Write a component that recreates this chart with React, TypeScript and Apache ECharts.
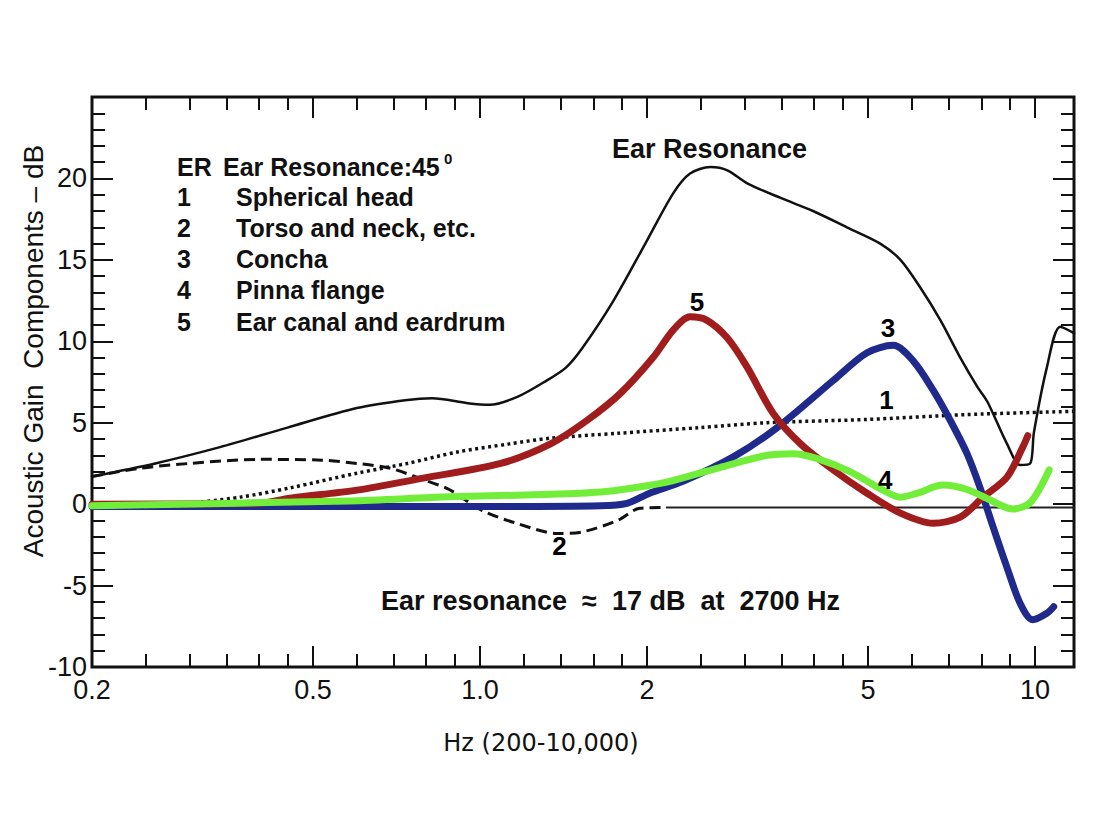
import { useRef, useEffect } from 'react';
import * as echarts from 'echarts';

// frequency in kHz, gain in dB
const erCurve = [
  [0.2, 1.7], [0.26, 2.5], [0.34, 3.5], [0.45, 4.7], [0.6, 5.9], [0.74, 6.4], [0.82, 6.5], [0.95, 6.2],
  [1.04, 6.1], [1.17, 6.6], [1.32, 7.6], [1.43, 8.4], [1.53, 9.6], [1.74, 12.5], [2.0, 16.2], [2.23, 19.1],
  [2.39, 20.3], [2.6, 20.7], [2.79, 20.5], [3.03, 19.7], [3.48, 18.8], [3.98, 18.0], [4.58, 17.0],
  [5.26, 16.0], [5.72, 15.0], [6.21, 13.3], [6.75, 11.3], [7.33, 9.0], [7.87, 7.2], [8.2, 6.3],
  [8.9, 3.7], [9.4, 2.4], [9.8, 2.5], [9.95, 4.4], [10.5, 8.4], [11.1, 10.9], [11.75, 10.5],
];
const headCurve = [
  [0.29, 0], [0.37, 0.43], [0.455, 1.0], [0.6, 1.9], [0.74, 2.5], [0.91, 3.2], [1.13, 3.7], [1.34, 4.05],
  [1.77, 4.35], [2.49, 4.7], [3.29, 5.0], [4.98, 5.2], [7.54, 5.5], [11.75, 5.7],
];
const torsoCurve = [
  [0.2, 1.7], [0.244, 2.2], [0.3, 2.5], [0.4, 2.75], [0.52, 2.7], [0.6, 2.5], [0.69, 2.2], [0.79, 1.5],
  [0.88, 0.9], [1.01, -0.4], [1.17, -1.2], [1.38, -1.8], [1.53, -1.7], [1.77, -1.0], [1.94, -0.25], [2.17, -0.2],
];
const torsoTail = [[2.17, -0.2], [11.75, -0.2]];
const conchaCurve = [
  [0.2, -0.15], [1.0, -0.15], [1.65, -0.1], [1.84, 0.05], [2.02, 0.67], [2.32, 1.4], [2.86, 2.9], [3.43, 4.7],
  [4.33, 7.6], [4.98, 9.3], [5.55, 9.75], [6.03, 8.8], [6.55, 7.0], [7.03, 5.15], [7.54, 3.1], [7.96, 1.0],
  [8.4, -1.4], [8.9, -3.9], [9.4, -6.1], [9.9, -7.1], [10.5, -6.7], [10.8, -6.3],
];
const canalCurve = [
  [0.2, 0], [0.397, 0.05], [0.455, 0.37], [0.6, 0.86], [0.79, 1.6], [1.09, 2.5], [1.34, 3.7], [1.56, 5.15],
  [1.79, 6.8], [2.05, 9.0], [2.23, 10.7], [2.39, 11.5], [2.56, 11.3], [2.79, 10.2], [3.03, 8.4], [3.37, 5.6],
  [3.78, 3.7], [4.33, 2.1], [4.98, 0.67], [5.72, -0.55], [6.55, -1.17], [7.33, -0.8], [8.06, 0.43],
  [8.9, 1.66], [9.5, 3.5], [9.7, 4.2],
];
const pinnaCurve = [
  [0.2, -0.1], [0.58, 0.2], [0.88, 0.45], [1.34, 0.6], [1.65, 0.74], [1.89, 1.0], [2.17, 1.35], [2.67, 2.2],
  [3.29, 3.0], [3.66, 3.1], [4.05, 2.8], [4.64, 2.0], [5.32, 0.86], [5.72, 0.43], [6.13, 0.67], [6.82, 1.17],
  [7.54, 0.9], [8.3, 0.25], [9.1, -0.3], [9.8, 0.1], [10.6, 2.1],
];

const curveTags = ['1', '2', '3', '4', '5'];
const tagKHz = [5.4, 1.39, 5.43, 5.37, 2.46];
const tagDb = [6.4, -2.6, 10.8, 1.5, 12.4];

const majorKHz = [0.2, 0.5, 1, 2, 5, 10];
const majorLabels = ['0.2', '0.5', '1.0', '2', '5', '10'];
const minorKHz = [0.25, 0.3, 0.35, 0.4, 0.45, 0.6, 0.7, 0.8, 0.9, 1.2, 1.4, 1.6, 1.8, 2.5, 3, 3.5, 4, 4.5, 6, 7, 8, 9];
const kHzMin = 0.2;
const kHzMax = 11.75;
const dbMin = -10;
const dbMax = 25;

const legendRows = [
  ['ER', 'Ear Resonance:45'],
  ['1', 'Spherical head'],
  ['2', 'Torso and neck, etc.'],
  ['3', 'Concha'],
  ['4', 'Pinna flange'],
  ['5', 'Ear canal and eardrum'],
];

const FONT = '"Liberation Sans", Arial, sans-serif';
const INK = '#111';

const lg = (v: number) => Math.log10(v);
const toXY = (pts: number[][]) => pts.map(([f, d]) => [lg(f), d]);

function xAx(position: 'top' | 'bottom', values: number[], len: number, labels: boolean) {
  return {
    type: 'value' as const, position, min: lg(kHzMin), max: lg(kHzMax),
    axisLine: { show: false, onZero: false }, splitLine: { show: false },
    axisTick: { inside: true, length: len, lineStyle: { color: INK, width: 2 }, customValues: values.map(lg) },
    axisLabel: labels
      ? {
          customValues: values.map(lg), color: INK, fontSize: 27, fontFamily: FONT, margin: 9,
          formatter: (v: number) => {
            const i = majorKHz.findIndex((k) => Math.abs(lg(k) - v) < 1e-6);
            return i >= 0 ? majorLabels[i] : '';
          },
        }
      : { show: false },
  };
}

function yAx(position: 'left' | 'right', labels: boolean) {
  return {
    type: 'value' as const, position, min: dbMin, max: dbMax, interval: 5,
    axisLine: { show: false, onZero: false }, splitLine: { show: false },
    axisTick: { inside: true, length: 21, lineStyle: { color: INK, width: 2 } },
    minorTick: { show: true, splitNumber: 5, length: 13, lineStyle: { color: INK, width: 2 } },
    axisLabel: labels
      ? { color: INK, fontSize: 27, fontFamily: FONT, margin: 5, showMaxLabel: false }
      : { show: false },
  };
}

function line(name: string, pts: number[][], color: string, width: number, type: any, z: number, cap = 'round') {
  return {
    name, type: 'line', data: toXY(pts), smooth: 0.3, symbol: 'none', z,
    lineStyle: { color, width, type, cap, join: 'round' },
  };
}

function text(x: number, y: number, t: string, size: number, weight = 'bold', align = 'left') {
  return {
    type: 'text', x, y,
    style: { text: t, fill: INK, font: `${weight} ${size}px ${FONT}`, textAlign: align, textVerticalAlign: 'middle' },
  };
}

export default function App() {
  const ref = useRef<HTMLDivElement>(null);

  useEffect(() => {
    if (!ref.current) return;
    const chart = echarts.init(ref.current, undefined, { renderer: 'svg' });
    const rowY = [167, 197, 228, 259, 290, 322];

    const graphic: any[] = [
      text(612, 149, 'Ear Resonance', 27),
      text(381, 601, 'Ear resonance  \u2248  17 dB  at  2700 Hz', 27),
      text(444, 158, '0', 15),
      {
        type: 'text', x: 33, y: 351, rotation: Math.PI / 2,
        style: { text: 'Acoustic Gain  Components \u2013 dB', fill: INK, font: `28px ${FONT}`, textAlign: 'center', textVerticalAlign: 'middle' },
      },
      {
        type: 'text', x: 541, y: 743,
        style: { text: 'Hz (200-10,000)', fill: INK, font: `24px "DejaVu Sans", sans-serif`, textAlign: 'center', textVerticalAlign: 'middle' },
      },
    ];
    legendRows.forEach(([k, label], i) => {
      graphic.push(text(177, rowY[i], k, 25));
      graphic.push(text(i === 0 ? 223 : 236, rowY[i], label, 25));
    });

    chart.setOption({
      animation: false,
      backgroundColor: '#fff',
      grid: { left: 92, right: 26, top: 97, bottom: 158, show: true, borderColor: INK, borderWidth: 3 },
      xAxis: [
        xAx('bottom', majorKHz, 21, true),
        xAx('bottom', minorKHz, 13, false),
        xAx('top', majorKHz, 21, false),
        xAx('top', minorKHz, 13, false),
      ],
      yAxis: [yAx('left', true), yAx('right', false)],
      series: [
        line('Ear Resonance', erCurve, '#111', 2.5, 'solid', 2),
        line('Spherical head', headCurve, '#111', 3.5, [3, 3.5], 2, 'butt'),
        line('Torso and neck', torsoCurve, '#111', 3, [11, 6], 2, 'butt'),
        line('Torso and neck (tail)', torsoTail, '#222', 2, 'solid', 2),
        line('Concha', conchaCurve, '#1f2a8c', 7, 'solid', 3),
        line('Ear canal and eardrum', canalCurve, '#a11d1d', 7, 'solid', 4),
        line('Pinna flange', pinnaCurve, '#72ee3a', 7, 'solid', 5),
        {
          name: 'tags', type: 'scatter', z: 6, symbolSize: 1, itemStyle: { color: 'transparent', opacity: 1 },
          data: curveTags.map((t, i) => ({ name: t, value: [lg(tagKHz[i]), tagDb[i]] })),
          label: {
            show: true, position: 'inside', formatter: '{b}', color: '#000', textBorderWidth: 0, opacity: 1,
            fontSize: 26, fontWeight: 'bold', fontFamily: FONT,
          },
        },
      ],
      graphic,
    });

    return () => chart.dispose();
  }, []);

  return (
    <div
      ref={ref}
      style={{ position: 'fixed', left: 0, top: 0, width: 1100, height: 825, background: '#fff' }}
    />
  );
}
